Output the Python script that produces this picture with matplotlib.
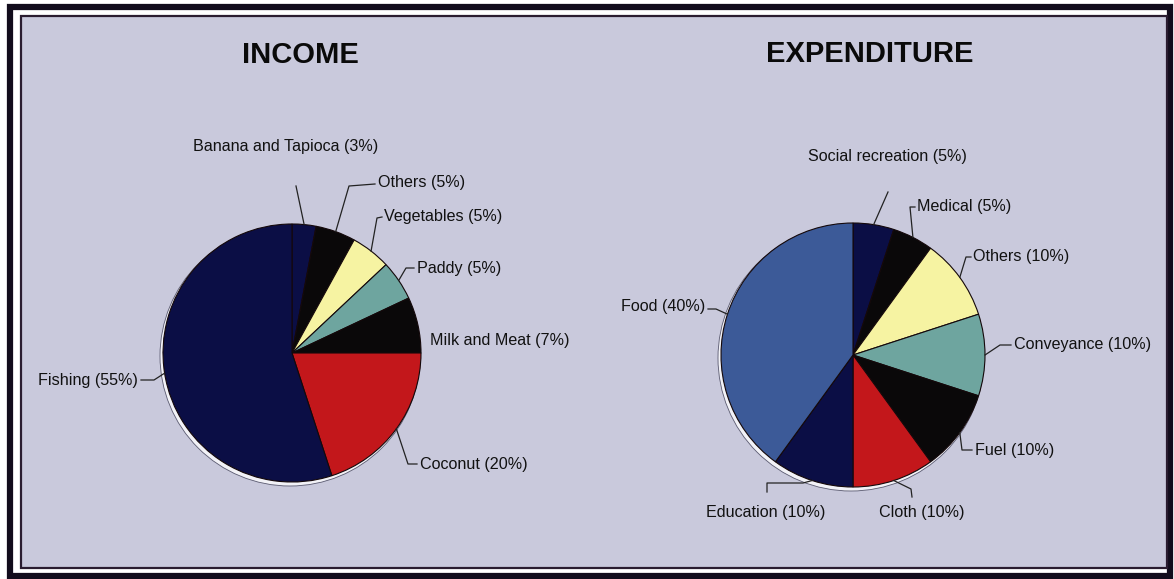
import numpy as np
import matplotlib.pyplot as plt
from matplotlib.patches import Rectangle, Circle

W, H = 1174, 579

# data
income_labels = ["Banana and Tapioca", "Others", "Vegetables", "Paddy",
                 "Milk and Meat", "Coconut", "Fishing"]
income_values = [3, 5, 5, 5, 7, 20, 55]

exp_labels = ["Social recreation", "Medical", "Others", "Conveyance",
              "Fuel", "Cloth", "Education", "Food"]
exp_values = [5, 5, 10, 10, 10, 10, 10, 40]

# colours
NAVY = "#0b0e45"
BLACK = "#0a0809"
YELLOW = "#f6f3a2"
TEAL = "#6ea59f"
RED = "#c3171b"
BLUE = "#3c5a98"
income_colors = [NAVY, BLACK, YELLOW, TEAL, BLACK, RED, NAVY]
exp_colors = [NAVY, BLACK, YELLOW, TEAL, BLACK, RED, NAVY, BLUE]

# layout in image pixels (x from left, y from top)
income_center, income_r = (292, 353), 129
exp_center, exp_r = (853, 355), 132

# label text anchor (x, y, ha) and leader points after the rim point
income_text = [(193, 147, "left"), (378, 183, "left"), (384, 217, "left"),
               (417, 268, "left"), (430, 341, "left"), (420, 464, "left"),
               (138, 380, "right")]
income_lead = [[(296, 186)],
               [(349, 186), (375, 184)],
               [(377, 218), (382, 217)],
               [(406, 268), (414, 268)],
               None,
               [(408, 464), (417, 464)],
               [(154, 380), (141, 380)]]

exp_text = [(808, 157, "left"), (917, 206, "left"), (973, 256, "left"),
            (1014, 344, "left"), (975, 450, "left"), (922, 512, "center"),
            (766, 512, "center"), (705, 307, "right")]
exp_lead = [[(888, 192)],
            [(910, 207), (915, 207)],
            [(966, 257), (971, 257)],
            [(1000, 345), (1011, 345)],
            [(962, 450), (972, 450)],
            [(911, 489), (912, 497)],
            [(803, 483), (767, 483), (767, 492)],
            [(716, 309), (708, 309)]]

plt.rcParams["font.family"] = ["Liberation Sans", "DejaVu Sans"]

fig = plt.figure(figsize=(W / 100, H / 100), dpi=100)
fig.patch.set_facecolor("white")
ax = fig.add_axes([0, 0, 1, 1])


def Y(y):
    return H - y


# frame and background
ax.add_patch(Rectangle((10, Y(576)), 1160, 569, facecolor="none",
                       edgecolor="#120c1c", linewidth=4.5, zorder=0))
ax.add_patch(Rectangle((21, Y(568)), 1146, 552, facecolor="#c9c9dc",
                       edgecolor="#2a1c30", linewidth=1.6, zorder=0))


def draw_pie(values, colors, labels, center, r, texts, leads):
    cx, cy = center[0], Y(center[1])
    # light rim on the lower left, like the printed original
    ax.add_patch(Circle((cx - 2, cy - 3), r + 1, facecolor="#f2f2f7",
                        edgecolor="#5a5a70", linewidth=0.6, zorder=1))
    ax.pie(values, colors=colors, startangle=90, counterclock=False,
           center=(cx, cy), radius=r, frame=True,
           wedgeprops=dict(edgecolor="#14080a", linewidth=0.8, zorder=2))
    total = sum(values)
    cum = 0
    for v, lab, (tx, ty, ha), lead in zip(values, labels, texts, leads):
        mid = 90 - 360 * (cum + v / 2) / total
        cum += v
        ax.text(tx, Y(ty), f"{lab} ({v}%)", ha=ha, va="center",
                fontsize=11.6, color="#111111", zorder=4)
        if lead is None:
            continue
        rx = cx + r * np.cos(np.radians(mid))
        ry = cy + r * np.sin(np.radians(mid))
        xs = [rx] + [p[0] for p in lead]
        ys = [ry] + [Y(p[1]) for p in lead]
        ax.plot(xs, ys, color="#222222", linewidth=0.9, zorder=3)


draw_pie(income_values, income_colors, income_labels, income_center,
         income_r, income_text, income_lead)
draw_pie(exp_values, exp_colors, exp_labels, exp_center, exp_r,
         exp_text, exp_lead)

ax.text(300, Y(55), "INCOME", ha="center", va="center", fontsize=21,
        fontweight="bold", color="#0a0a0a")
ax.text(870, Y(54), "EXPENDITURE", ha="center", va="center", fontsize=21,
        fontweight="bold", color="#0a0a0a")

ax.set_xlim(0, W)
ax.set_ylim(0, H)
ax.set_aspect("auto")
ax.axis("off")

fig.savefig("out.png", dpi=100, facecolor="white")
